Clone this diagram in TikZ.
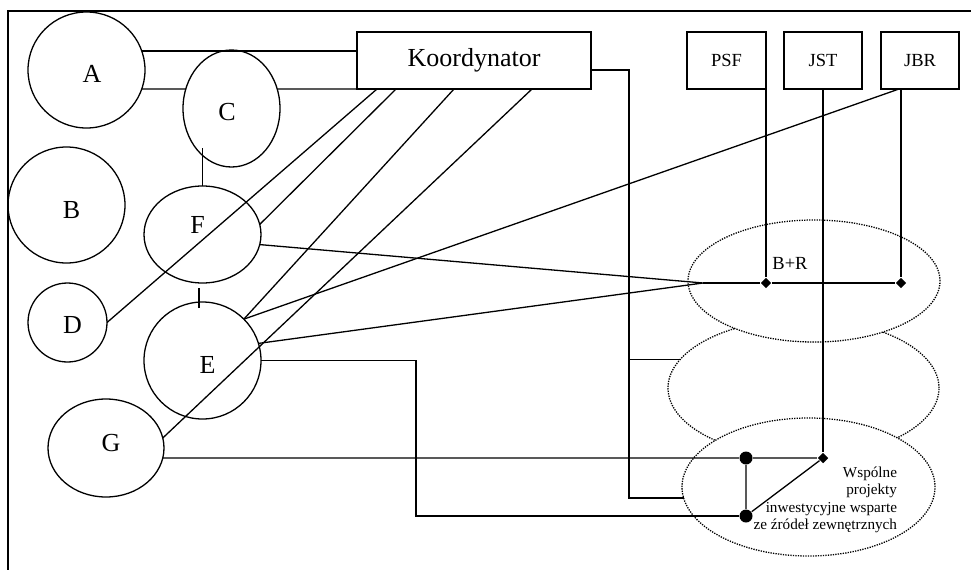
\documentclass[tikz,border=0pt]{standalone}
\usepackage{fontspec}
\setmainfont{Liberation Serif}
\usetikzlibrary{shapes.geometric,positioning,calc}

\tikzset{
  ent/.style={draw, ellipse, inner sep=0pt, outer sep=0pt},
  box/.style={draw, rectangle, inner sep=0pt, outer sep=0pt, minimum height=57pt},
  zone/.style={draw, ellipse, fill=white, line width=1.3pt, dash pattern=on 1.3pt off 1.2pt,
    inner sep=0pt, outer sep=0pt},
  bullet/.style={circle, fill, inner sep=0pt, minimum size=13pt},
  joint/.style={diamond, fill, inner sep=0pt, minimum size=11pt},
}

\begin{document}
\begin{tikzpicture}[x=1pt, y=-1pt, line width=1.3pt,
  big/.style={font=\fontsize{26}{30}\selectfont},
  mid/.style={font=\fontsize{18.5}{21}\selectfont}]
  \useasboundingbox (0,0) rectangle (971,570);
  \draw[line width=1.8pt] (971,11) -- (8,11) -- (8,570);

  % partners on the left
  \node[ent, minimum width=117pt, minimum height=116pt,
    label={[big, xshift=5.5pt, yshift=-4pt]center:A}] (A) at (86.5,70) {};
  \node[ent, minimum width=117pt, minimum height=116pt,
    label={[big, xshift=5pt, yshift=-5.5pt]center:B}] (B) at (66.5,205) {};
  \node[ent, minimum width=97pt, minimum height=117pt,
    label={[big, xshift=-4.5pt, yshift=-4pt]center:C}] (C) at (231.5,108.5) {};
  \node[ent, minimum width=79pt, minimum height=79pt,
    label={[big, xshift=5pt, yshift=-3pt]center:D}] (D) at (67.5,322.5) {};
  \node[ent, minimum width=117pt, minimum height=97pt,
    label={[big, xshift=-5pt, yshift=10pt]center:F}] (F) at (202.5,234.5) {};
  \node[ent, minimum width=117pt, minimum height=117pt,
    label={[big, xshift=5pt, yshift=-4.5pt]center:E}] (E) at (202.5,360.5) {};
  \node[ent, minimum width=116pt, minimum height=98pt,
    label={[big, xshift=5pt, yshift=4.5pt]center:G}] (G) at (106,448) {};

  % boxes at the top
  \node[box, big, minimum width=234pt] (K) at (474,60.5) {Koordynator};
  \node[box, mid, minimum width=79pt] (PSF) at (726.5,60.5) {PSF};
  \node[box, mid, minimum width=78pt, right=18pt of PSF] (JST) {JST};
  \node[box, mid, minimum width=78pt, right=19pt of JST] (JBR) {JBR};

  % dotted areas
  \node[zone, minimum width=271pt, minimum height=138pt] (Z2) at (803.5,388) {};
  \node[zone, minimum width=252pt, minimum height=122pt] (Z1) at (814,281) {};
  \node[zone, minimum width=253pt, minimum height=138pt] (Z3) at (808.5,487) {};
  \node[mid] (brt) at (790,263) {B+R};
  \node[anchor=east, align=right, font=\fontsize{15.2}{17.5}\selectfont] (wsp) at (901,500)
    {Wspólne\\projekty\\inwestycyjne wsparte\\ze źródeł zewnętrznych};

  \coordinate (brl) at (703,283);
  \node[joint] (j1) at (PSF.south east |- brl) {};
  \node[joint] (j2) at (901,283) {};
  \node[joint] (j3) at (JST.south |- G.-10) {};
  \node[bullet] (b1) at (746,458) {};
  \node[bullet] (b2) at (746,516) {};

  % links
  \draw (A.19) -- (A.19 -| K.west);
  \draw (A.-19) -- (C.157);
  \draw (C.23) -- (K.south west);
  \draw (F.north) -- ++(0,-38);
  \draw ([xshift=-3.5pt,yshift=-6pt]E.north) -- ++(0,-20);
  \draw ([xshift=20pt]K.south west) -- (D.east);
  \draw ([xshift=39pt]K.south west) -- (F.10);
  \draw ([xshift=97pt]K.south west) -- (E.45);
  \draw ([xshift=175pt]K.south west) -- (G.10);
  \draw ([xshift=18pt]JBR.south west) -- (E.45);
  \draw (F.-10) -- (brl) (E.17) -- (brl);
  \draw (brl) -- (j1) -- (j2);
  \draw (PSF.south east) -- (j1);
  \draw ([xshift=20pt]JBR.south west) -- (j2);
  \draw (JST.south) -- (j3);
  \draw (G.-10) -- (b1) -- (j3) -- (b2) -- (b1);
  \draw (E.east) -- ++(155,0) |- (b2);
  \draw ([yshift=-9.5pt]K.east) -- ++(38,0) coordinate (bus) |- (Z3.185);
  \draw (bus |- Z2.167) -- (Z2.167);
\end{tikzpicture}
\end{document}
